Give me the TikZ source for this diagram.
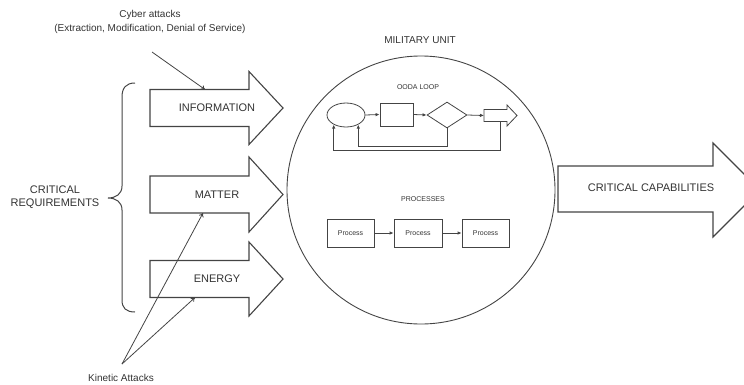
\documentclass[tikz,border=0pt]{standalone}
\usepackage{fontspec}
\setmainfont{Liberation Sans}
\usetikzlibrary{arrows.meta,shapes.geometric}
\definecolor{txt}{HTML}{333333}
\definecolor{ln}{HTML}{444444}
\begin{document}
\begin{tikzpicture}[x=1bp,y=-1bp,
  lbl/.style={text=txt,font=\fontsize{11bp}{13bp}\selectfont,inner sep=0pt,align=center},
  medlbl/.style={text=txt,font=\fontsize{10bp}{14bp}\selectfont,inner sep=0pt,align=center},
  smalllbl/.style={text=txt,font=\fontsize{7bp}{8bp}\selectfont,inner sep=0pt},
  fatarrow/.style={draw=ln,line width=1.1bp,fill=white,line join=miter},
  box/.style={draw=ln,line width=0.8bp,inner sep=0pt,text=txt,font=\fontsize{7bp}{8bp}\selectfont},
  flow/.style={draw=ln,line width=0.8bp,-{Latex[length=4bp,width=3.5bp]}},
  attack/.style={draw=ln,line width=0.8bp,-{To[length=4bp,width=5bp]}}]
\useasboundingbox (0,0) rectangle (744,384);
\clip (0,0) rectangle (744,384);

% cyber attacks
\node[medlbl] (cyber) at (150,22) {Cyber attacks\\(Extraction, Modification, Denial of Service)};
\coordinate (cyberstart) at (152,52);

% three input arrows
\draw[fatarrow] (150,89.5) -- (249,89.5) -- (249,71.5) -- (283,108) -- (249,144.5) -- (249,126.5) -- (150,126.5) -- cycle;
\node[lbl] (info) at (217,108) {INFORMATION};
\coordinate (infotop) at (205,89.5);

\draw[fatarrow] (150,176) -- (249,176) -- (249,157) -- (283,194.5) -- (249,232) -- (249,213) -- (150,213) -- cycle;
\node[lbl] (matter) at (217,194.5) {MATTER};
\coordinate (matterbot) at (203,213);

\draw[fatarrow] (150,260.5) -- (249,260.5) -- (249,242) -- (283,279) -- (249,316) -- (249,297.5) -- (150,297.5) -- cycle;
\node[lbl] (energy) at (217,279) {ENERGY};
\coordinate (energybot) at (195,297.5);

\draw[attack] (cyberstart) -- (infotop);

% brace
\draw[ln,line width=1bp] (135,83) .. controls (126,83) and (122,88) .. (122,97) -- (122,186)
  .. controls (122,194) and (116,198) .. (108,198)
  .. controls (116,198) and (122,202) .. (122,210) -- (122,300)
  .. controls (122,308) and (126,312) .. (135,312);
\node[lbl] (critreq) at (55,197) {CRITICAL\\REQUIREMENTS};

% kinetic attacks
\coordinate (kin) at (122,364);
\node[medlbl] (kinlbl) at (121,378) {Kinetic Attacks};
\draw[attack] (kin) -- (matterbot);
\draw[attack] (kin) -- (energybot);

% military unit
\node[draw=ln,line width=0.9bp,circle,minimum size=268bp,inner sep=0pt] (unit) at (421,190) {};
\node[medlbl] (unitlbl) at (420,40) {MILITARY UNIT};

% OODA loop
\node[smalllbl] (oodalbl) at (418,87) {OODA LOOP};
\node[box,ellipse,minimum width=38bp,minimum height=24bp] (o1) at (346,115) {};
\node[box,minimum width=33bp,minimum height=23bp] (o2) at (396.5,114.5) {};
\node[box,diamond,aspect=1.54,minimum width=40bp,minimum height=26bp] (o3) at (447,115) {};
\draw[box,fill=white] (484,109.5) -- (507,109.5) -- (507,105) -- (517,115.5) -- (507,126) -- (507,121.5) -- (484,121.5) -- cycle;
\coordinate (o4w) at (484,115.5);
\coordinate (o4s) at (500,121.5);
\draw[flow] (o1.east) -- (o2.west);
\draw[flow] (o2.east) -- (o3.west);
\draw[flow] (o3.east) -- (o4w);
\draw[flow] (o3.south) -- ++(0,18) -| (o1.-38);
\draw[flow] (o4s) -- ++(0,28.5) -| (o1.-142);

% processes
\node[smalllbl] (proclbl) at (423,199) {PROCESSES};
\node[box,minimum width=47bp,minimum height=28bp] (p1) at (350.5,233) {Process};
\node[box,minimum width=48bp,minimum height=28bp] (p2) at (418,233) {Process};
\node[box,minimum width=47bp,minimum height=28bp] (p3) at (485.5,233) {Process};
\draw[flow] (p1.east) -- (p2.west);
\draw[flow] (p2.east) -- (p3.west);

% critical capabilities
\draw[fatarrow] (558,166) -- (713,166) -- (713,143) -- (760,190) -- (713,237) -- (713,212) -- (558,212) -- cycle;
\node[lbl] (critcap) at (651,188) {CRITICAL CAPABILITIES};
\end{tikzpicture}
\end{document}
